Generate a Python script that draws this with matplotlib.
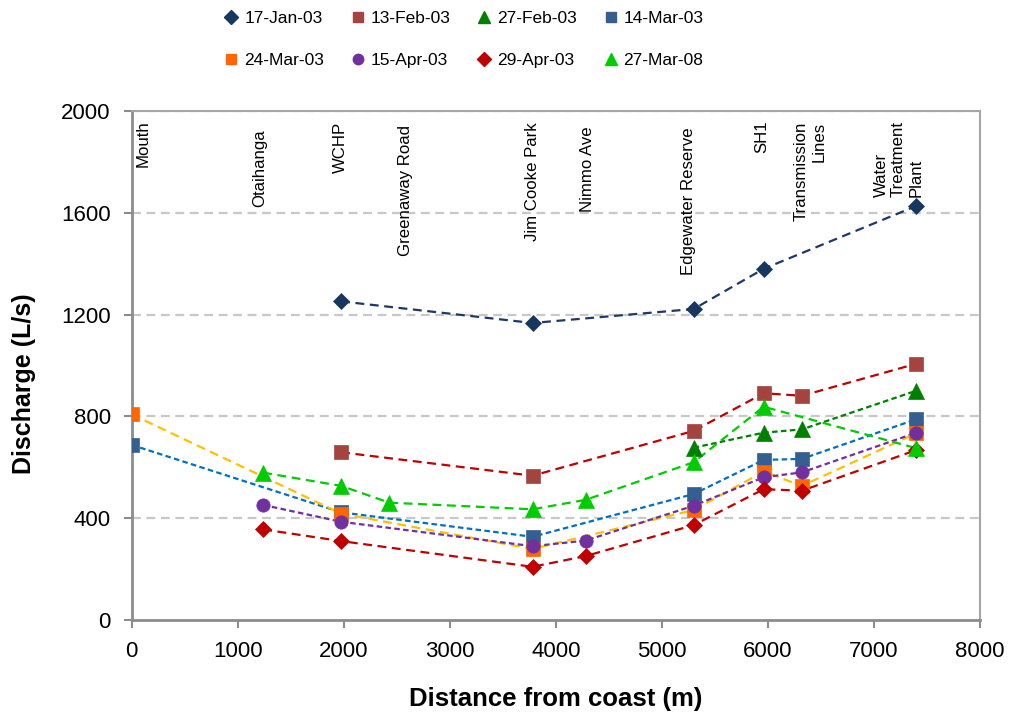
import matplotlib
matplotlib.use("Agg")
import matplotlib.pyplot as plt
from matplotlib.lines import Line2D
import numpy as np

# ---- data ----
site_names = ["Mouth", "Otaihanga", "WCHP", "Greenaway Road", "Jim Cooke Park",
              "Nimmo Ave", "Edgewater Reserve", "SH1", "Transmission\nLines",
              "Water\nTreatment\nPlant"]
site_dist = [0, 1240, 1975, 2430, 3780, 4280, 5300, 5960, 6320, 7400]

series_names = ["17-Jan-03", "13-Feb-03", "27-Feb-03", "14-Mar-03",
                "24-Mar-03", "15-Apr-03", "29-Apr-03", "27-Mar-08"]

jan17_x = [1975, 3780, 5300, 5960, 7400]
jan17_y = [1252, 1167, 1222, 1380, 1627]

feb13_x = [1975, 3780, 5300, 5960, 6320, 7400]
feb13_y = [659, 567, 743, 891, 881, 1007]

feb27_x = [5300, 5960, 6320, 7400]
feb27_y = [677, 736, 749, 901]

mar14_x = [0, 1975, 3780, 5300, 5960, 6320, 7400]
mar14_y = [688, 423, 327, 495, 629, 633, 789]

mar24_x = [0, 1975, 3780, 5300, 5960, 6320, 7400]
mar24_y = [808, 418, 279, 432, 583, 527, 734]

apr15_x = [1240, 1975, 3780, 4280, 5300, 5960, 6320, 7400]
apr15_y = [452, 386, 290, 312, 449, 561, 580, 736]

apr29_x = [1240, 1975, 3780, 4280, 5300, 5960, 6320, 7400]
apr29_y = [356, 310, 209, 251, 373, 514, 508, 668]

mar08_x = [1240, 1975, 2430, 3780, 4280, 5300, 5960, 7400]
mar08_y = [579, 527, 461, 435, 472, 620, 838, 675]

y_ticks = [0, 400, 800, 1200, 1600, 2000]
x_ticks = [0, 1000, 2000, 3000, 4000, 5000, 6000, 7000, 8000]

# ---- styles ----
LONG = (4, 2.5)
SHORT = (2.5, 1.5)
styles = [
    dict(marker="D", ms=8.2, mc="#17375E", lc="#1F3864", dash=LONG),
    dict(marker="s", ms=9.4, mc="#A5433F", lc="#C00000", dash=LONG),
    dict(marker="^", ms=11.5, mc="#008000", lc="#008000", dash=SHORT),
    dict(marker="s", ms=9.4, mc="#355F91", lc="#0070C0", dash=SHORT),
    dict(marker="s", ms=9.4, mc="#FF6600", lc="#FFC000", dash=LONG),
    dict(marker="o", ms=9.6, mc="#7030A0", lc="#7030A0", dash=SHORT),
    dict(marker="D", ms=8.2, mc="#C00000", lc="#C00000", dash=LONG),
    dict(marker="^", ms=11.5, mc="#00CC00", lc="#00CC00", dash=LONG),
]
series_x = [jan17_x, feb13_x, feb27_x, mar14_x, mar24_x, apr15_x, apr29_x, mar08_x]
series_y = [jan17_y, feb13_y, feb27_y, mar14_y, mar24_y, apr15_y, apr29_y, mar08_y]

# label positions (layout only)
label_x = [107, 1210, 1965, 2578, 3776, 4295, 5249, 5946, 6399, 7230]
label_y = [1965, 1929, 1957, 1945, 1957, 1941, 1937, 1965, 1957, 1662]
label_va = ["top"] * 9 + ["bottom"]

plt.rcParams["font.family"] = ["Liberation Sans", "DejaVu Sans"]

fig = plt.figure(figsize=(10.12, 7.18), dpi=100)
ax = fig.add_axes([0.1301, 0.1365, 0.8383, 0.7089])

for y in y_ticks[1:]:
    ax.axhline(y, color="#C8C8C8", lw=1.6, dashes=(4, 2.5), zorder=0)

for xs, ys, st in zip(series_x, series_y, styles):
    ax.plot(xs, ys, color=st["lc"], lw=1.6, dashes=st["dash"], zorder=2)
    ax.plot(xs, ys, ls="none", marker=st["marker"], ms=st["ms"],
            mfc=st["mc"], mec=st["mc"], mew=0.5, zorder=3)

for name, lx, ly, va in zip(site_names, label_x, label_y, label_va):
    ax.text(lx, ly, name, rotation=90, ha="center", va=va, fontsize=12.1,
            multialignment="right" if va == "top" else "left", zorder=4)

ax.set_xlim(0, 8000)
ax.set_ylim(0, 2000)
ax.set_xticks(x_ticks)
ax.set_yticks(y_ticks)
ax.tick_params(axis="both", labelsize=16, color="#8C8C8C", width=1.5,
               direction="out", length=6)
ax.tick_params(axis="x", pad=9)
ax.tick_params(axis="y", pad=9)
for s in ["left", "bottom"]:
    ax.spines[s].set_color("#8C8C8C")
    ax.spines[s].set_linewidth(2)
for s in ["top", "right"]:
    ax.spines[s].set_color("#A6A6A6")
    ax.spines[s].set_linewidth(1.5)

ax.set_xlabel("Distance from coast (m)", fontsize=18.5, fontweight="bold", labelpad=18)
ax.set_ylabel("Discharge (L/s)", fontsize=18, fontweight="bold")
ax.yaxis.set_label_coords(-0.113, 0.464)

# legend
handles = []
leg_ms = {"D": 7, "s": 7.5, "^": 8.5, "o": 7.5}
for name, st in zip(series_names, styles):
    handles.append(Line2D([], [], ls="none", marker=st["marker"],
                          ms=leg_ms[st["marker"]], mfc=st["mc"], mec=st["mc"], label=name))
order = [0, 4, 1, 5, 2, 6, 3, 7]
fig.legend([handles[i] for i in order], [series_names[i] for i in order],
           ncol=4, loc="center", bbox_to_anchor=(0.459, 0.945), frameon=False,
           prop={"size": 12.5},
           handlelength=0.7, handletextpad=0.4, columnspacing=1.58, labelspacing=1.5)

fig.savefig("out.png", dpi=100)
